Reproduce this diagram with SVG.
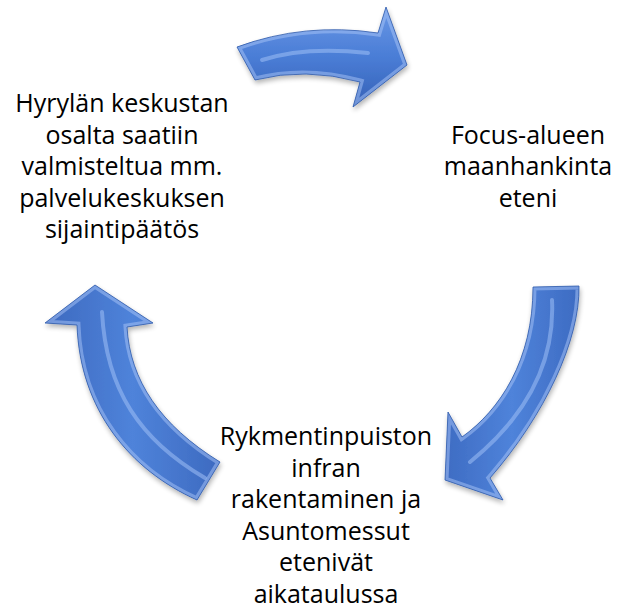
<svg xmlns="http://www.w3.org/2000/svg" xmlns:xlink="http://www.w3.org/1999/xlink" width="618" height="613" viewBox="0 0 618 613">
<style>
.lbl{font-family:"Open Sans","Liberation Sans",sans-serif;font-size:25px;fill:#000;text-anchor:middle}
.face{stroke:none}
.bev{fill:none;stroke:#a9c6f7;stroke-width:7;stroke-opacity:0.5;stroke-linejoin:miter}
.edge{fill:none;stroke:#2f5bab;stroke-width:0.8;stroke-linejoin:miter}
.hl{fill:none;stroke:#9fc0f6;stroke-width:4;stroke-opacity:0.55;stroke-linecap:round}
</style>
<defs>
<path id="pTop" d="M237 47 Q305 22 378 33 L386 7 L407 65 L353 107 L360 82 Q305 67 255 80 Z"/>
<path id="pRight" d="M533 287 L579 286 C580 340 545 415 490 478 L503 500 L445 480 L448 412 L462 437 C500 410 533 360 533 287 Z"/>
<path id="pLeft" d="M95 285 L153 323 L127 327 C130 380 160 425 220 462 L197 500 C130 470 80 410 77 325 L45 323 Z"/>
<clipPath id="cTop"><use xlink:href="#pTop"/></clipPath>
<clipPath id="cRight"><use xlink:href="#pRight"/></clipPath>
<clipPath id="cLeft"><use xlink:href="#pLeft"/></clipPath>
<linearGradient id="gTop" x1="0" y1="0" x2="0" y2="1">
<stop offset="0" stop-color="#6a98e6"/><stop offset="0.5" stop-color="#4a7dd6"/><stop offset="1" stop-color="#3561b6"/>
</linearGradient>
<linearGradient id="gRight" x1="1" y1="0" x2="0" y2="0">
<stop offset="0" stop-color="#3d6bc2"/><stop offset="0.5" stop-color="#4f83da"/><stop offset="1" stop-color="#3e6cc3"/>
</linearGradient>
<linearGradient id="gLeft" x1="0" y1="0" x2="1" y2="0">
<stop offset="0" stop-color="#3c69bf"/><stop offset="0.5" stop-color="#4f83da"/><stop offset="1" stop-color="#3d6ac0"/>
</linearGradient>
<filter id="sh" x="-10%" y="-10%" width="130%" height="130%">
<feGaussianBlur in="SourceAlpha" stdDeviation="2.5"/>
<feOffset dx="1" dy="3" result="b"/>
<feComponentTransfer><feFuncA type="linear" slope="0.3"/></feComponentTransfer>
<feMerge><feMergeNode/><feMergeNode in="SourceGraphic"/></feMerge>
</filter>
</defs>
<rect width="618" height="613" fill="#ffffff"/>
<g id="connectors">
<g id="arrow-top" filter="url(#sh)">
<use xlink:href="#pTop" class="face" fill="url(#gTop)"/>
<use xlink:href="#pTop" class="bev" clip-path="url(#cTop)"/>
<path class="hl" d="M262 60 Q305 46 368 53"/>
<use xlink:href="#pTop" class="edge"/>
</g>
<g id="arrow-right" filter="url(#sh)">
<use xlink:href="#pRight" class="face" fill="url(#gRight)"/>
<use xlink:href="#pRight" class="bev" clip-path="url(#cRight)"/>
<path class="hl" d="M552 300 C555 360 528 415 470 462"/>
<use xlink:href="#pRight" class="edge"/>
</g>
<g id="arrow-left" filter="url(#sh)">
<use xlink:href="#pLeft" class="face" fill="url(#gLeft)"/>
<use xlink:href="#pLeft" class="bev" clip-path="url(#cLeft)"/>
<path class="hl" d="M102 312 C106 390 140 440 205 478"/>
<use xlink:href="#pLeft" class="edge"/>
</g>
</g>
<g id="node-hyryla">
<text class="lbl" x="122" y="112">Hyrylän keskustan</text>
<text class="lbl" x="122" y="143.5">osalta saatiin</text>
<text class="lbl" x="122" y="175">valmisteltua mm.</text>
<text class="lbl" x="122" y="206.5">palvelukeskuksen</text>
<text class="lbl" x="122" y="238">sijaintipäätös</text>
</g>
<g id="node-focus">
<text class="lbl" x="528" y="143.5">Focus-alueen</text>
<text class="lbl" x="528" y="175">maanhankinta</text>
<text class="lbl" x="528" y="206.5">eteni</text>
</g>
<g id="node-rykmentinpuisto">
<text class="lbl" x="326" y="445">Rykmentinpuiston</text>
<text class="lbl" x="326" y="476.5">infran</text>
<text class="lbl" x="326" y="508">rakentaminen ja</text>
<text class="lbl" x="326" y="539.5">Asuntomessut</text>
<text class="lbl" x="326" y="571">etenivät</text>
<text class="lbl" x="326" y="602.5">aikataulussa</text>
</g>
</svg>
